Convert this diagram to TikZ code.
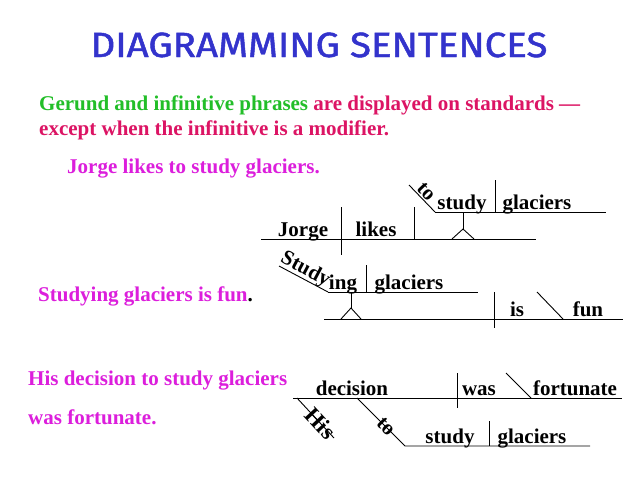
\documentclass[tikz,border=0pt]{standalone}
\usepackage{fontspec}
\setmainfont{Liberation Serif}
\newfontfamily\titlefont[FakeBold=1.3]{Fira Sans}
\definecolor{titleblue}{RGB}{51,51,204}
\definecolor{gergreen}{RGB}{34,190,40}
\definecolor{crim}{RGB}{220,20,100}
\definecolor{magen}{RGB}{220,30,220}
\begin{document}
\begin{tikzpicture}[x=1pt,y=-1pt,
  word/.style={anchor=base,inner sep=0pt,font=\fontsize{21}{24}\selectfont\bfseries},
  slant/.style={sloped,inner sep=0pt,font=\fontsize{21}{24}\selectfont\bfseries},
  txt/.style={anchor=base west,inner sep=0pt,font=\fontsize{21}{25}\selectfont\bfseries},
  ln/.style={line width=0.9pt,black}]
\useasboundingbox[fill=white] (0,0) rectangle (638,479);
% title and texts
\node[anchor=base,inner sep=0pt,text=titleblue,font=\titlefont\fontsize{35}{40}\selectfont] (title) at (319,57) {\scalebox{1.1}[1]{DIAGRAMMING SENTENCES}};
\node[txt] (l1) at (39,110) {\textcolor{gergreen}{Gerund and infinitive phrases} \textcolor{crim}{are displayed on standards ---}};
\node[txt,text=crim] (l2) at (39,135) {except when the infinitive is a modifier.};
\node[txt,text=magen] (s1) at (67,173) {Jorge likes to study glaciers.};
\node[txt] (s2) at (38,301) {\textcolor{magen}{Studying glaciers is fun}.};
\node[txt,text=magen] (s3a) at (28,385) {His decision to study glaciers};
\node[txt,text=magen] (s3b) at (28,424) {was fortunate.};
% ---------- diagram 1
\coordinate (b1L) at (261,239); \coordinate (b1R) at (536,239);
\coordinate (d1T) at (341,207); \coordinate (d1B) at (341,255);
\coordinate (v1T) at (414,207); \coordinate (v1B) at (414,239);
\coordinate (s1T) at (463,212); \coordinate (s1A) at (463,229);
\coordinate (s1L) at (452,239); \coordinate (s1R) at (474,239);
\coordinate (u1L) at (435,212); \coordinate (u1R) at (606,212);
\coordinate (t1S) at (409,185);
\coordinate (d2T) at (495,180); \coordinate (d2B) at (495,212);
\draw[ln] (b1L) -- (b1R);
\draw[ln] (d1T) -- (d1B);
\draw[ln] (v1T) -- (v1B);
\draw[ln] (s1T) -- (s1A);
\draw[ln] (s1L) -- (s1A) -- (s1R);
\draw[ln] (u1L) -- (u1R);
\draw[ln] (t1S) -- node[slant,above=1pt,pos=0.45] (to1) {to} (u1L);
\draw[ln] (d2T) -- (d2B);
\node[word] (jorge) at (303,236.5) {Jorge};
\node[word] (likes) at (376,236.5) {likes};
\node[word] (study1) at (462,209.5) {study};
\node[word] (glac1) at (537,209.5) {glaciers};
% ---------- diagram 2
\coordinate (u2L) at (328,292); \coordinate (u2R) at (478,292);
\coordinate (g2S) at (279,266);
\coordinate (d3T) at (366,265); \coordinate (d3B) at (366,292);
\coordinate (s2T) at (351,292); \coordinate (s2A) at (351,308);
\coordinate (s2L) at (341,319); \coordinate (s2R) at (361,319);
\coordinate (b2L) at (324,319); \coordinate (b2R) at (623,319);
\coordinate (d4T) at (494,292); \coordinate (d4B) at (494,328);
\coordinate (bs1T) at (537,292); \coordinate (bs1B) at (563,319);
\draw[ln] (u2L) -- (u2R);
\draw[ln] (g2S) -- node[slant,above=-1pt,pos=0.45] (study2) {Study} (u2L);
\draw[ln] (d3T) -- (d3B);
\draw[ln] (s2T) -- (s2A);
\draw[ln] (s2L) -- (s2A) -- (s2R);
\draw[ln] (b2L) -- (b2R);
\draw[ln] (d4T) -- (d4B);
\draw[ln] (bs1T) -- (bs1B);
\node[word] (ing) at (343,289.5) {ing};
\node[word] (glac2) at (409,289.5) {glaciers};
\node[word] (is) at (517,316.5) {is};
\node[word] (fun) at (588,316.5) {fun};
% ---------- diagram 3
\coordinate (b3L) at (293,398); \coordinate (b3R) at (622,398);
\coordinate (d5T) at (457,373); \coordinate (d5B) at (457,408);
\coordinate (bs2T) at (506,373); \coordinate (bs2B) at (531,398);
\coordinate (h3S) at (297,398); \coordinate (h3E) at (334,438);
\coordinate (t3S) at (357,398); \coordinate (t3E) at (405,446);
\coordinate (u3R) at (590,446);
\coordinate (d6T) at (489,421); \coordinate (d6B) at (489,446);
\draw[ln] (b3L) -- (b3R);
\draw[ln] (d5T) -- (d5B);
\draw[ln] (bs2T) -- (bs2B);
\draw[ln] (h3S) -- node[slant,pos=0.64,font=\fontsize{23}{26}\selectfont\bfseries] (his) {His} (h3E);
\draw[ln] (t3S) -- node[slant,pos=0.6] (to3) {to} (t3E) -- (u3R);
\draw[ln] (d6T) -- (d6B);
\node[word] (decision) at (352,395.5) {decision};
\node[word] (was) at (479,395.5) {was};
\node[word] (fortunate) at (575,395.5) {fortunate};
\node[word] (study3) at (450,443.5) {study};
\node[word] (glac3) at (532,443.5) {glaciers};
\end{tikzpicture}
\end{document}
